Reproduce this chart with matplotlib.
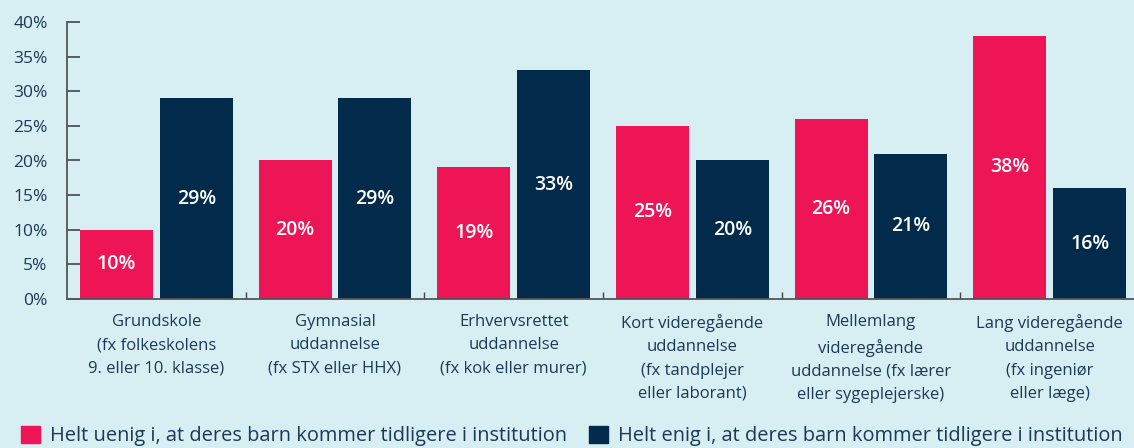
import numpy as np
import matplotlib.pyplot as plt
from matplotlib.patches import Patch

categories = [
    "Grundskole\n(fx folkeskolens\n9. eller 10. klasse)",
    "Gymnasial\nuddannelse\n(fx STX eller HHX)",
    "Erhvervsrettet\nuddannelse\n(fx kok eller murer)",
    "Kort videregående\nuddannelse\n(fx tandplejer\neller laborant)",
    "Mellemlang\nvideregående\nuddannelse (fx lærer\neller sygeplejerske)",
    "Lang videregående\nuddannelse\n(fx ingeniør\neller læge)",
]
uenig = [10, 20, 19, 25, 26, 38]
enig = [29, 29, 33, 20, 21, 16]
series_names = [
    "Helt uenig i, at deres barn kommer tidligere i institution",
    "Helt enig i, at deres barn kommer tidligere i institution",
]
yticks = [0, 5, 10, 15, 20, 25, 30, 35, 40]

bg = "#d7eef2"
pink = "#ee1556"
navy = "#022a4a"
textcol = "#1b3a57"

plt.rcParams['font.family'] = ['Open Sans', 'DejaVu Sans']

fig = plt.figure(figsize=(11.34, 4.48), dpi=100, facecolor=bg)
ax = fig.add_axes([67/1134, 149/448, 1072/1134, 277/448], facecolor=bg)

x = np.arange(len(categories))
w = 0.408
off = 0.2235
b1 = ax.bar(x - off, uenig, w, color=pink)
b2 = ax.bar(x + off, enig, w, color=navy)

for bars, vals in ((b1, uenig), (b2, enig)):
    for r, v in zip(bars, vals):
        ax.text(r.get_x() + r.get_width()/2, v/2, f"{v}%", ha='center', va='center',
                color='white', fontsize=14, fontweight='semibold')

ax.set_xlim(-0.5, len(categories) - 0.5)
ax.set_ylim(0, 40)
ax.set_yticks(yticks)
ax.set_yticklabels([f"{t}%" for t in yticks], color=textcol, fontsize=12.5)
ax.set_xticks(x)
ax.set_xticklabels(categories, color=textcol, fontsize=12, linespacing=1.6, va='top')
ax.set_xticks(x[:-1] + 0.5, minor=True)
ax.tick_params(axis='x', which='major', length=0, pad=11)
ax.tick_params(axis='x', which='minor', direction='in', length=5, width=1, color='#444')
ax.tick_params(axis='y', direction='in', length=9.5, width=1.2, color='#444', pad=14)

for s in ('top', 'right'):
    ax.spines[s].set_visible(False)
for s in ('left', 'bottom'):
    ax.spines[s].set_color('#555')
    ax.spines[s].set_linewidth(1.3)

handles = [Patch(color=pink), Patch(color=navy)]
fig.legend(handles, series_names, loc='center', bbox_to_anchor=(0.5044, 0.027), ncol=2,
           frameon=False, fontsize=14.4, handlelength=0.94, handleheight=0.94,
           handletextpad=0.5, columnspacing=1.1, labelcolor=textcol,
           borderpad=0, borderaxespad=0)

fig.savefig("out.png", dpi=100, facecolor=bg)
